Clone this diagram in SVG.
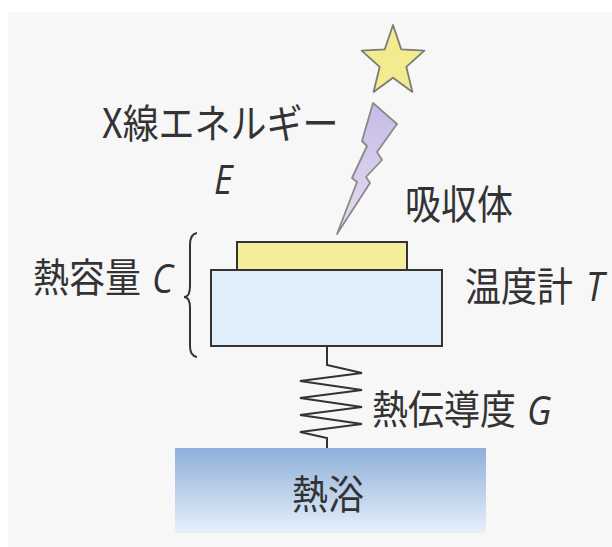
<svg xmlns="http://www.w3.org/2000/svg" width="612" height="547" viewBox="0 0 612 547">
  <defs>
    <style>
      .lbl { font-family: "Noto Sans CJK JP", "Noto Sans", sans-serif; font-size: 36px; fill: #333333; }
      .var { font-family: "Open Sans", "Noto Sans", sans-serif; font-style: italic; font-size: 36px; fill: #333333; }
      .edge { stroke: #333333; stroke-width: 2; fill: none; }
    </style>
    <linearGradient id="boltFill" x1="0" y1="0" x2="0" y2="1">
      <stop offset="0" stop-color="#c6bbe6"/>
      <stop offset="1" stop-color="#e8def0"/>
    </linearGradient>
    <linearGradient id="bathFill" x1="0" y1="0" x2="0" y2="1">
      <stop offset="0" stop-color="#8fafda"/>
      <stop offset="1" stop-color="#e6f0fa"/>
    </linearGradient>
  </defs>

  <!-- page background -->
  <rect x="0" y="0" width="612" height="547" fill="#ffffff"/>
  <rect x="8" y="12" width="604" height="535" fill="#f7f7f7"/>

  <!-- incoming photon: star and lightning bolt -->
  <g id="photon">
    <polygon points="393,25 401.2,49.3 424.4,50.6 406.3,66.8 412.4,91.9 393,77.7 373.6,91.9 379.7,66.8 361.6,50.6 384.8,49.3"
             fill="#f2ec8e" stroke="#7a7a7a" stroke-width="1.8" stroke-linejoin="round"/>
    <polygon points="373,103 397,124 377,152 382,160 366,177 370,183 337,234 357,182 352,178 367,146 362,141"
             fill="url(#boltFill)" stroke="#8a8a8a" stroke-width="1.8" stroke-linejoin="round"/>
  </g>

  <!-- absorber -->
  <g id="absorber">
    <rect x="237" y="242" width="170" height="28" fill="#f4ee9c" stroke="#333333" stroke-width="2"/>
  </g>

  <!-- thermometer -->
  <g id="thermometer">
    <rect x="211" y="270" width="231" height="76" fill="#dfeef8" stroke="#333333" stroke-width="2"/>
  </g>

  <!-- heat bath -->
  <g id="bath">
    <rect x="175" y="448" width="311" height="85" fill="url(#bathFill)"/>
    <text class="lbl" transform="translate(292,509) scale(1,1.12)">熱浴</text>
  </g>

  <!-- connectors: thermal link spring and heat-capacity brace -->
  <g id="connectors">
    <polyline class="edge" stroke-linejoin="miter"
              points="327,346 327,365 362,373 300,381 362,390 300,398 362,407 300,415 362,424 300,432 327,438 327,448"/>
    <path class="edge" d="M197,233 Q190,234 190,245 L190,286 Q190,297 184,297 Q190,297 190,308 L190,346 Q190,356 197,357"/>
  </g>

  <!-- labels -->
  <g id="labels">
    <text class="lbl" transform="translate(102,138) scale(1,1.12)">X線エネルギー</text>
    <text class="var" transform="translate(214,194) scale(1,1.12)">E</text>
    <text class="lbl" transform="translate(405,219) scale(1,1.12)">吸収体</text>
    <text class="lbl" transform="translate(33,292) scale(1,1.12)">熱容量</text>
    <text class="var" transform="translate(152,293) scale(1,1.12)">C</text>
    <text class="lbl" transform="translate(465,301) scale(1,1.12)">温度計</text>
    <text class="var" transform="translate(586,301) scale(1,1.12)">T</text>
    <text class="lbl" transform="translate(372,424) scale(1,1.12)">熱伝導度</text>
    <text class="var" transform="translate(527,425) scale(1,1.12)">G</text>
  </g>
</svg>
